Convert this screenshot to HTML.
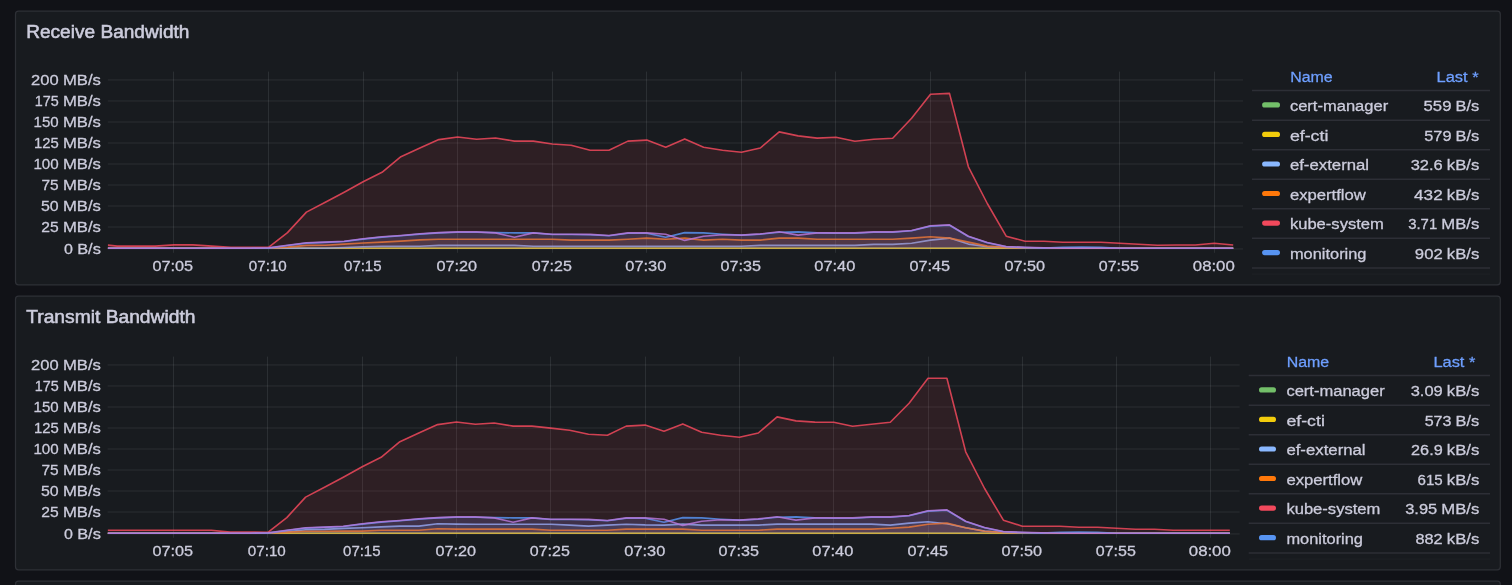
<!DOCTYPE html>
<html lang="en"><head><meta charset="utf-8"><title>Networking / Cluster</title>
<style>
html,body{margin:0;padding:0;background:#111217;}
body{width:1512px;height:585px;overflow:hidden;position:relative;font-family:"Liberation Sans", sans-serif;}
.panel{position:absolute;left:15px;width:1484.5px;height:272.7px;background:#181b1f;border:1.25px solid #2e3036;border-radius:3px;}
svg{position:absolute;left:0;top:0;}
svg text{font-family:"Liberation Sans", sans-serif;}
svg text{stroke:#ccccdc;stroke-width:0.3px;} svg text.lnk{stroke:#6e9fff;} .ttl{font-weight:400;stroke:#ccccdc;stroke-width:0.55px !important;}
</style></head><body>
<svg width="1512" height="585" viewBox="0 0 1512 585">
<defs>
<clipPath id="clip1"><rect x="107.6" y="70" width="1135.4" height="180.6"/></clipPath>
<clipPath id="clip2"><rect x="107.6" y="355" width="1131.4" height="180.6"/></clipPath>
</defs>
<rect x="15.5" y="11.2" width="1484.8" height="273.6" rx="3" fill="#181b1f" stroke="#2e3036" stroke-width="1.25"/>
<rect x="15.5" y="296.2" width="1484.8" height="273.6" rx="3" fill="#181b1f" stroke="#2e3036" stroke-width="1.25"/>
<rect x="15.5" y="581.2" width="1484.8" height="273.6" rx="3" fill="#181b1f" stroke="#2e3036" stroke-width="1.25"/>
<g>
<text x="26.2" y="37.8" font-size="17.5" fill="#ccccdc" textLength="163.3" lengthAdjust="spacingAndGlyphs" class="ttl">Receive Bandwidth</text>
<text y="253.7" font-size="15.5" fill="#ccccdc" text-anchor="end"><tspan x="77.2" textLength="8.9" lengthAdjust="spacingAndGlyphs">0</tspan> <tspan x="100.9" textLength="23.7" lengthAdjust="spacingAndGlyphs">B/s</tspan></text>
<text y="231.8" font-size="15.5" fill="#ccccdc" text-anchor="end"><tspan x="63.0" textLength="17.4" lengthAdjust="spacingAndGlyphs">25</tspan> <tspan x="100.9" textLength="38.0" lengthAdjust="spacingAndGlyphs">MB/s</tspan></text>
<text y="210.8" font-size="15.5" fill="#ccccdc" text-anchor="end"><tspan x="63.0" textLength="17.7" lengthAdjust="spacingAndGlyphs">50</tspan> <tspan x="100.9" textLength="38.0" lengthAdjust="spacingAndGlyphs">MB/s</tspan></text>
<text y="189.8" font-size="15.5" fill="#ccccdc" text-anchor="end"><tspan x="63.0" textLength="17.2" lengthAdjust="spacingAndGlyphs">75</tspan> <tspan x="100.9" textLength="38.0" lengthAdjust="spacingAndGlyphs">MB/s</tspan></text>
<text y="168.8" font-size="15.5" fill="#ccccdc" text-anchor="end"><tspan x="63.0" textLength="25.3" lengthAdjust="spacingAndGlyphs">100</tspan> <tspan x="100.9" textLength="38.0" lengthAdjust="spacingAndGlyphs">MB/s</tspan></text>
<text y="147.8" font-size="15.5" fill="#ccccdc" text-anchor="end"><tspan x="63.0" textLength="24.8" lengthAdjust="spacingAndGlyphs">125</tspan> <tspan x="100.9" textLength="38.0" lengthAdjust="spacingAndGlyphs">MB/s</tspan></text>
<text y="126.8" font-size="15.5" fill="#ccccdc" text-anchor="end"><tspan x="63.0" textLength="25.1" lengthAdjust="spacingAndGlyphs">150</tspan> <tspan x="100.9" textLength="38.0" lengthAdjust="spacingAndGlyphs">MB/s</tspan></text>
<text y="105.7" font-size="15.5" fill="#ccccdc" text-anchor="end"><tspan x="63.0" textLength="24.0" lengthAdjust="spacingAndGlyphs">175</tspan> <tspan x="100.9" textLength="38.0" lengthAdjust="spacingAndGlyphs">MB/s</tspan></text>
<text y="84.7" font-size="15.5" fill="#ccccdc" text-anchor="end"><tspan x="63.0" textLength="27.6" lengthAdjust="spacingAndGlyphs">200</tspan> <tspan x="100.9" textLength="38.0" lengthAdjust="spacingAndGlyphs">MB/s</tspan></text>
<text x="172.8" y="270.8" font-size="15.5" fill="#ccccdc" text-anchor="middle" textLength="40.6" lengthAdjust="spacingAndGlyphs">07:05</text>
<text x="267.8" y="270.8" font-size="15.5" fill="#ccccdc" text-anchor="middle" textLength="38.0" lengthAdjust="spacingAndGlyphs">07:10</text>
<text x="362.8" y="270.8" font-size="15.5" fill="#ccccdc" text-anchor="middle" textLength="37.5" lengthAdjust="spacingAndGlyphs">07:15</text>
<text x="456.8" y="270.8" font-size="15.5" fill="#ccccdc" text-anchor="middle" textLength="40.6" lengthAdjust="spacingAndGlyphs">07:20</text>
<text x="551.8" y="270.8" font-size="15.5" fill="#ccccdc" text-anchor="middle" textLength="40.1" lengthAdjust="spacingAndGlyphs">07:25</text>
<text x="645.8" y="270.8" font-size="15.5" fill="#ccccdc" text-anchor="middle" textLength="40.9" lengthAdjust="spacingAndGlyphs">07:30</text>
<text x="740.8" y="270.8" font-size="15.5" fill="#ccccdc" text-anchor="middle" textLength="40.4" lengthAdjust="spacingAndGlyphs">07:35</text>
<text x="834.8" y="270.8" font-size="15.5" fill="#ccccdc" text-anchor="middle" textLength="41.1" lengthAdjust="spacingAndGlyphs">07:40</text>
<text x="929.8" y="270.8" font-size="15.5" fill="#ccccdc" text-anchor="middle" textLength="40.6" lengthAdjust="spacingAndGlyphs">07:45</text>
<text x="1024.8" y="270.8" font-size="15.5" fill="#ccccdc" text-anchor="middle" textLength="40.6" lengthAdjust="spacingAndGlyphs">07:50</text>
<text x="1118.8" y="270.8" font-size="15.5" fill="#ccccdc" text-anchor="middle" textLength="40.1" lengthAdjust="spacingAndGlyphs">07:55</text>
<text x="1213.8" y="270.8" font-size="15.5" fill="#ccccdc" text-anchor="middle" textLength="42.0" lengthAdjust="spacingAndGlyphs">08:00</text>
<path d="M107.8,248.95H1243.0M107.8,227.03H1243.0M107.8,206.00H1243.0M107.8,185.03H1243.0M107.8,164.00H1243.0M107.8,143.00H1243.0M107.8,122.00H1243.0M107.8,100.97H1243.0M107.8,79.95H1243.0M173.5,71.6V252.8M268.5,71.6V252.8M363.5,71.6V252.8M457.5,71.6V252.8M552.5,71.6V252.8M646.5,71.6V252.8M741.5,71.6V252.8M835.5,71.6V252.8M930.5,71.6V252.8M1025.5,71.6V252.8M1119.5,71.6V252.8M1214.5,71.6V252.8" stroke="rgba(240,250,255,0.09)" stroke-width="1" fill="none"/>
<g clip-path="url(#clip1)">
<path d="M107.8,248.3 L117.2,248.3 L136.2,248.3 L155.1,248.3 L174.0,248.3 L192.9,248.3 L211.8,248.3 L230.7,248.3 L249.6,248.3 L268.5,248.3 L287.5,248.3 L306.4,248.3 L325.3,248.3 L344.2,248.3 L363.1,248.3 L382.0,248.3 L400.9,248.3 L419.9,248.3 L438.8,248.3 L457.7,248.3 L476.6,248.3 L495.5,248.3 L514.4,248.3 L533.3,248.3 L552.3,248.3 L571.2,248.3 L590.1,248.3 L609.0,248.3 L627.9,248.3 L646.8,248.3 L665.7,248.3 L684.7,248.3 L703.6,248.3 L722.5,248.3 L741.4,248.3 L760.3,248.3 L779.2,248.3 L798.1,248.3 L817.1,248.3 L836.0,248.3 L854.9,248.3 L873.8,248.3 L892.7,248.3 L911.6,248.3 L930.5,248.3 L949.5,248.3 L968.4,248.3 L987.3,248.3 L1006.2,248.3 L1025.1,248.3 L1044.0,248.3 L1062.9,248.3 L1081.9,248.3 L1100.8,248.3 L1119.7,248.3 L1138.6,248.3 L1157.5,248.3 L1176.4,248.3 L1195.3,248.3 L1214.2,248.3 L1233.2,248.3 L1233.2,248.7 L107.8,248.7 Z" fill="#73BF69" fill-opacity="0.1" stroke="none"/>
<path d="M107.8,248.3 L117.2,248.3 L136.2,248.3 L155.1,248.3 L174.0,248.3 L192.9,248.3 L211.8,248.3 L230.7,248.3 L249.6,248.3 L268.5,248.3 L287.5,248.3 L306.4,248.3 L325.3,248.3 L344.2,248.3 L363.1,248.3 L382.0,248.3 L400.9,248.3 L419.9,248.3 L438.8,248.3 L457.7,248.3 L476.6,248.3 L495.5,248.3 L514.4,248.3 L533.3,248.3 L552.3,248.3 L571.2,248.3 L590.1,248.3 L609.0,248.3 L627.9,248.3 L646.8,248.3 L665.7,248.3 L684.7,248.3 L703.6,248.3 L722.5,248.3 L741.4,248.3 L760.3,248.3 L779.2,248.3 L798.1,248.3 L817.1,248.3 L836.0,248.3 L854.9,248.3 L873.8,248.3 L892.7,248.3 L911.6,248.3 L930.5,248.3 L949.5,248.3 L968.4,248.3 L987.3,248.3 L1006.2,248.3 L1025.1,248.3 L1044.0,248.3 L1062.9,248.3 L1081.9,248.3 L1100.8,248.3 L1119.7,248.3 L1138.6,248.3 L1157.5,248.3 L1176.4,248.3 L1195.3,248.3 L1214.2,248.3 L1233.2,248.3" fill="none" stroke="#73BF69" stroke-width="1.6" stroke-opacity="0.84" stroke-linejoin="round"/>
<path d="M107.8,248.2 L117.2,248.2 L136.2,248.2 L155.1,248.2 L174.0,248.2 L192.9,248.2 L211.8,248.2 L230.7,248.2 L249.6,248.2 L268.5,248.2 L287.5,248.2 L306.4,248.2 L325.3,248.2 L344.2,248.2 L363.1,248.2 L382.0,248.2 L400.9,248.2 L419.9,248.2 L438.8,248.2 L457.7,248.2 L476.6,248.2 L495.5,248.2 L514.4,248.2 L533.3,248.2 L552.3,248.2 L571.2,248.2 L590.1,248.2 L609.0,248.2 L627.9,248.2 L646.8,248.2 L665.7,248.2 L684.7,248.2 L703.6,248.2 L722.5,248.2 L741.4,248.2 L760.3,248.2 L779.2,248.2 L798.1,248.2 L817.1,248.2 L836.0,248.2 L854.9,248.2 L873.8,248.2 L892.7,248.2 L911.6,248.2 L930.5,248.2 L949.5,248.2 L968.4,248.2 L987.3,248.2 L1006.2,248.2 L1025.1,248.2 L1044.0,248.2 L1062.9,248.2 L1081.9,248.2 L1100.8,248.2 L1119.7,248.2 L1138.6,248.2 L1157.5,248.2 L1176.4,248.2 L1195.3,248.2 L1214.2,248.2 L1233.2,248.2 L1233.2,248.7 L107.8,248.7 Z" fill="#F2CC0C" fill-opacity="0.1" stroke="none"/>
<path d="M107.8,248.2 L117.2,248.2 L136.2,248.2 L155.1,248.2 L174.0,248.2 L192.9,248.2 L211.8,248.2 L230.7,248.2 L249.6,248.2 L268.5,248.2 L287.5,248.2 L306.4,248.2 L325.3,248.2 L344.2,248.2 L363.1,248.2 L382.0,248.2 L400.9,248.2 L419.9,248.2 L438.8,248.2 L457.7,248.2 L476.6,248.2 L495.5,248.2 L514.4,248.2 L533.3,248.2 L552.3,248.2 L571.2,248.2 L590.1,248.2 L609.0,248.2 L627.9,248.2 L646.8,248.2 L665.7,248.2 L684.7,248.2 L703.6,248.2 L722.5,248.2 L741.4,248.2 L760.3,248.2 L779.2,248.2 L798.1,248.2 L817.1,248.2 L836.0,248.2 L854.9,248.2 L873.8,248.2 L892.7,248.2 L911.6,248.2 L930.5,248.2 L949.5,248.2 L968.4,248.2 L987.3,248.2 L1006.2,248.2 L1025.1,248.2 L1044.0,248.2 L1062.9,248.2 L1081.9,248.2 L1100.8,248.2 L1119.7,248.2 L1138.6,248.2 L1157.5,248.2 L1176.4,248.2 L1195.3,248.2 L1214.2,248.2 L1233.2,248.2" fill="none" stroke="#F2CC0C" stroke-width="1.6" stroke-opacity="0.84" stroke-linejoin="round"/>
<path d="M107.8,248.3 L117.2,248.3 L136.2,248.3 L155.1,248.3 L174.0,248.3 L192.9,248.3 L211.8,248.3 L230.7,248.3 L249.6,248.3 L268.5,248.3 L287.5,248.3 L306.4,248.3 L325.3,248.3 L344.2,247.5 L363.1,246.7 L382.0,246.2 L400.9,246.2 L419.9,246.2 L438.8,245.4 L457.7,245.4 L476.6,245.4 L495.5,245.4 L514.4,245.4 L533.3,246.3 L552.3,246.3 L571.2,246.3 L590.1,246.3 L609.0,246.3 L627.9,246.3 L646.8,246.3 L665.7,246.3 L684.7,246.3 L703.6,246.3 L722.5,246.3 L741.4,246.3 L760.3,245.4 L779.2,245.4 L798.1,245.4 L817.1,245.4 L836.0,245.4 L854.9,245.4 L873.8,244.4 L892.7,244.4 L911.6,243.2 L930.5,240.1 L949.5,238.1 L968.4,244.1 L987.3,246.7 L1006.2,247.4 L1025.1,247.9 L1044.0,248.3 L1062.9,248.3 L1081.9,248.3 L1100.8,248.3 L1119.7,248.3 L1138.6,248.3 L1157.5,248.3 L1176.4,248.3 L1195.3,248.3 L1214.2,248.3 L1233.2,248.3 L1233.2,248.7 L107.8,248.7 Z" fill="#8AB8FF" fill-opacity="0.1" stroke="none"/>
<path d="M107.8,248.3 L117.2,248.3 L136.2,248.3 L155.1,248.3 L174.0,248.3 L192.9,248.3 L211.8,248.3 L230.7,248.3 L249.6,248.3 L268.5,248.3 L287.5,248.3 L306.4,248.3 L325.3,248.3 L344.2,247.5 L363.1,246.7 L382.0,246.2 L400.9,246.2 L419.9,246.2 L438.8,245.4 L457.7,245.4 L476.6,245.4 L495.5,245.4 L514.4,245.4 L533.3,246.3 L552.3,246.3 L571.2,246.3 L590.1,246.3 L609.0,246.3 L627.9,246.3 L646.8,246.3 L665.7,246.3 L684.7,246.3 L703.6,246.3 L722.5,246.3 L741.4,246.3 L760.3,245.4 L779.2,245.4 L798.1,245.4 L817.1,245.4 L836.0,245.4 L854.9,245.4 L873.8,244.4 L892.7,244.4 L911.6,243.2 L930.5,240.1 L949.5,238.1 L968.4,244.1 L987.3,246.7 L1006.2,247.4 L1025.1,247.9 L1044.0,248.3 L1062.9,248.3 L1081.9,248.3 L1100.8,248.3 L1119.7,248.3 L1138.6,248.3 L1157.5,248.3 L1176.4,248.3 L1195.3,248.3 L1214.2,248.3 L1233.2,248.3" fill="none" stroke="#8AB8FF" stroke-width="1.6" stroke-opacity="0.84" stroke-linejoin="round"/>
<path d="M107.8,248.3 L117.2,248.3 L136.2,248.3 L155.1,248.3 L174.0,248.3 L192.9,248.3 L211.8,248.3 L230.7,248.3 L249.6,248.3 L268.5,248.3 L287.5,247.1 L306.4,245.4 L325.3,245.2 L344.2,244.1 L363.1,243.0 L382.0,242.1 L400.9,241.1 L419.9,239.9 L438.8,239.2 L457.7,239.2 L476.6,239.2 L495.5,239.2 L514.4,239.2 L533.3,239.2 L552.3,239.2 L571.2,240.1 L590.1,240.1 L609.0,240.1 L627.9,239.2 L646.8,238.1 L665.7,239.2 L684.7,238.1 L703.6,240.1 L722.5,239.2 L741.4,240.1 L760.3,240.1 L779.2,238.1 L798.1,238.1 L817.1,239.2 L836.0,239.2 L854.9,239.2 L873.8,239.2 L892.7,239.2 L911.6,238.1 L930.5,236.8 L949.5,238.1 L968.4,242.1 L987.3,246.1 L1006.2,247.4 L1025.1,247.9 L1044.0,248.3 L1062.9,248.3 L1081.9,248.3 L1100.8,248.3 L1119.7,248.3 L1138.6,248.3 L1157.5,248.3 L1176.4,248.3 L1195.3,248.3 L1214.2,248.3 L1233.2,248.3 L1233.2,248.7 L107.8,248.7 Z" fill="#FF780A" fill-opacity="0.1" stroke="none"/>
<path d="M107.8,248.3 L117.2,248.3 L136.2,248.3 L155.1,248.3 L174.0,248.3 L192.9,248.3 L211.8,248.3 L230.7,248.3 L249.6,248.3 L268.5,248.3 L287.5,247.1 L306.4,245.4 L325.3,245.2 L344.2,244.1 L363.1,243.0 L382.0,242.1 L400.9,241.1 L419.9,239.9 L438.8,239.2 L457.7,239.2 L476.6,239.2 L495.5,239.2 L514.4,239.2 L533.3,239.2 L552.3,239.2 L571.2,240.1 L590.1,240.1 L609.0,240.1 L627.9,239.2 L646.8,238.1 L665.7,239.2 L684.7,238.1 L703.6,240.1 L722.5,239.2 L741.4,240.1 L760.3,240.1 L779.2,238.1 L798.1,238.1 L817.1,239.2 L836.0,239.2 L854.9,239.2 L873.8,239.2 L892.7,239.2 L911.6,238.1 L930.5,236.8 L949.5,238.1 L968.4,242.1 L987.3,246.1 L1006.2,247.4 L1025.1,247.9 L1044.0,248.3 L1062.9,248.3 L1081.9,248.3 L1100.8,248.3 L1119.7,248.3 L1138.6,248.3 L1157.5,248.3 L1176.4,248.3 L1195.3,248.3 L1214.2,248.3 L1233.2,248.3" fill="none" stroke="#FF780A" stroke-width="1.6" stroke-opacity="0.84" stroke-linejoin="round"/>
<path d="M107.8,245.1 L117.2,246.1 L136.2,246.1 L155.1,246.1 L174.0,244.9 L192.9,244.9 L211.8,246.1 L230.7,247.2 L249.6,247.2 L268.5,247.4 L287.5,232.6 L306.4,212.1 L325.3,202.2 L344.2,192.2 L363.1,181.7 L382.0,172.3 L400.9,156.7 L419.9,147.9 L438.8,139.6 L457.7,137.0 L476.6,139.2 L495.5,138.0 L514.4,141.1 L533.3,141.1 L552.3,144.0 L571.2,145.2 L590.1,150.2 L609.0,150.2 L627.9,141.1 L646.8,140.1 L665.7,147.2 L684.7,138.9 L703.6,147.2 L722.5,150.2 L741.4,152.2 L760.3,148.0 L779.2,131.9 L798.1,135.9 L817.1,138.1 L836.0,137.3 L854.9,141.2 L873.8,139.2 L892.7,138.3 L911.6,118.2 L930.5,94.2 L949.5,93.4 L968.4,166.8 L987.3,203.5 L1006.2,236.2 L1025.1,241.2 L1044.0,241.2 L1062.9,242.2 L1081.9,242.2 L1100.8,242.2 L1119.7,243.2 L1138.6,244.2 L1157.5,245.2 L1176.4,245.0 L1195.3,245.0 L1214.2,243.2 L1233.2,245.0 L1233.2,248.7 L107.8,248.7 Z" fill="#F2495C" fill-opacity="0.1" stroke="none"/>
<path d="M107.8,245.1 L117.2,246.1 L136.2,246.1 L155.1,246.1 L174.0,244.9 L192.9,244.9 L211.8,246.1 L230.7,247.2 L249.6,247.2 L268.5,247.4 L287.5,232.6 L306.4,212.1 L325.3,202.2 L344.2,192.2 L363.1,181.7 L382.0,172.3 L400.9,156.7 L419.9,147.9 L438.8,139.6 L457.7,137.0 L476.6,139.2 L495.5,138.0 L514.4,141.1 L533.3,141.1 L552.3,144.0 L571.2,145.2 L590.1,150.2 L609.0,150.2 L627.9,141.1 L646.8,140.1 L665.7,147.2 L684.7,138.9 L703.6,147.2 L722.5,150.2 L741.4,152.2 L760.3,148.0 L779.2,131.9 L798.1,135.9 L817.1,138.1 L836.0,137.3 L854.9,141.2 L873.8,139.2 L892.7,138.3 L911.6,118.2 L930.5,94.2 L949.5,93.4 L968.4,166.8 L987.3,203.5 L1006.2,236.2 L1025.1,241.2 L1044.0,241.2 L1062.9,242.2 L1081.9,242.2 L1100.8,242.2 L1119.7,243.2 L1138.6,244.2 L1157.5,245.2 L1176.4,245.0 L1195.3,245.0 L1214.2,243.2 L1233.2,245.0" fill="none" stroke="#F2495C" stroke-width="1.6" stroke-opacity="0.84" stroke-linejoin="round"/>
<path d="M107.8,248.2 L117.2,248.2 L136.2,248.2 L155.1,248.2 L174.0,248.2 L192.9,248.2 L211.8,248.2 L230.7,248.2 L249.6,248.2 L268.5,248.1 L287.5,245.5 L306.4,243.1 L325.3,242.4 L344.2,241.5 L363.1,239.1 L382.0,237.1 L400.9,235.8 L419.9,234.1 L438.8,232.9 L457.7,232.2 L476.6,232.2 L495.5,232.6 L514.4,232.9 L533.3,232.9 L552.3,234.5 L571.2,234.5 L590.1,234.7 L609.0,235.8 L627.9,233.2 L646.8,233.2 L665.7,237.2 L684.7,232.6 L703.6,232.9 L722.5,234.2 L741.4,235.1 L760.3,234.2 L779.2,232.2 L798.1,231.9 L817.1,232.9 L836.0,233.2 L854.9,233.2 L873.8,232.2 L892.7,232.2 L911.6,230.8 L930.5,226.1 L949.5,225.2 L968.4,236.5 L987.3,242.8 L1006.2,246.8 L1025.1,247.6 L1044.0,248.1 L1062.9,247.3 L1081.9,247.1 L1100.8,247.3 L1119.7,248.2 L1138.6,248.2 L1157.5,248.2 L1176.4,248.2 L1195.3,248.2 L1214.2,248.2 L1233.2,248.2 L1233.2,248.7 L107.8,248.7 Z" fill="#5794F2" fill-opacity="0.1" stroke="none"/>
<path d="M107.8,248.2 L117.2,248.2 L136.2,248.2 L155.1,248.2 L174.0,248.2 L192.9,248.2 L211.8,248.2 L230.7,248.2 L249.6,248.2 L268.5,248.1 L287.5,245.5 L306.4,243.1 L325.3,242.4 L344.2,241.5 L363.1,239.1 L382.0,237.1 L400.9,235.8 L419.9,234.1 L438.8,232.9 L457.7,232.2 L476.6,232.2 L495.5,232.6 L514.4,232.9 L533.3,232.9 L552.3,234.5 L571.2,234.5 L590.1,234.7 L609.0,235.8 L627.9,233.2 L646.8,233.2 L665.7,237.2 L684.7,232.6 L703.6,232.9 L722.5,234.2 L741.4,235.1 L760.3,234.2 L779.2,232.2 L798.1,231.9 L817.1,232.9 L836.0,233.2 L854.9,233.2 L873.8,232.2 L892.7,232.2 L911.6,230.8 L930.5,226.1 L949.5,225.2 L968.4,236.5 L987.3,242.8 L1006.2,246.8 L1025.1,247.6 L1044.0,248.1 L1062.9,247.3 L1081.9,247.1 L1100.8,247.3 L1119.7,248.2 L1138.6,248.2 L1157.5,248.2 L1176.4,248.2 L1195.3,248.2 L1214.2,248.2 L1233.2,248.2" fill="none" stroke="#5794F2" stroke-width="1.6" stroke-opacity="0.84" stroke-linejoin="round"/>
<path d="M107.8,248.2 L117.2,248.2 L136.2,248.2 L155.1,248.2 L174.0,248.2 L192.9,248.2 L211.8,248.2 L230.7,248.2 L249.6,248.2 L268.5,247.8 L287.5,245.2 L306.4,242.8 L325.3,242.1 L344.2,241.2 L363.1,238.8 L382.0,236.8 L400.9,235.5 L419.9,233.8 L438.8,232.6 L457.7,231.9 L476.6,231.9 L495.5,232.9 L514.4,237.2 L533.3,232.9 L552.3,234.2 L571.2,234.2 L590.1,234.4 L609.0,235.5 L627.9,232.9 L646.8,232.9 L665.7,234.2 L684.7,240.4 L703.6,236.2 L722.5,234.8 L741.4,235.1 L760.3,233.9 L779.2,231.8 L798.1,235.1 L817.1,232.9 L836.0,232.9 L854.9,232.9 L873.8,231.9 L892.7,231.9 L911.6,230.5 L930.5,225.8 L949.5,224.9 L968.4,236.2 L987.3,242.5 L1006.2,246.5 L1025.1,247.3 L1044.0,247.8 L1062.9,248.2 L1081.9,248.2 L1100.8,248.2 L1119.7,248.2 L1138.6,248.2 L1157.5,248.2 L1176.4,248.2 L1195.3,248.2 L1214.2,248.2 L1233.2,248.2 L1233.2,248.7 L107.8,248.7 Z" fill="#B877D9" fill-opacity="0.1" stroke="none"/>
<path d="M107.8,248.2 L117.2,248.2 L136.2,248.2 L155.1,248.2 L174.0,248.2 L192.9,248.2 L211.8,248.2 L230.7,248.2 L249.6,248.2 L268.5,247.8 L287.5,245.2 L306.4,242.8 L325.3,242.1 L344.2,241.2 L363.1,238.8 L382.0,236.8 L400.9,235.5 L419.9,233.8 L438.8,232.6 L457.7,231.9 L476.6,231.9 L495.5,232.9 L514.4,237.2 L533.3,232.9 L552.3,234.2 L571.2,234.2 L590.1,234.4 L609.0,235.5 L627.9,232.9 L646.8,232.9 L665.7,234.2 L684.7,240.4 L703.6,236.2 L722.5,234.8 L741.4,235.1 L760.3,233.9 L779.2,231.8 L798.1,235.1 L817.1,232.9 L836.0,232.9 L854.9,232.9 L873.8,231.9 L892.7,231.9 L911.6,230.5 L930.5,225.8 L949.5,224.9 L968.4,236.2 L987.3,242.5 L1006.2,246.5 L1025.1,247.3 L1044.0,247.8 L1062.9,248.2 L1081.9,248.2 L1100.8,248.2 L1119.7,248.2 L1138.6,248.2 L1157.5,248.2 L1176.4,248.2 L1195.3,248.2 L1214.2,248.2 L1233.2,248.2" fill="none" stroke="#B877D9" stroke-width="1.6" stroke-opacity="0.84" stroke-linejoin="round"/>
</g>
<text x="1290.2" y="82" font-size="15.5" fill="#6e9fff" textLength="42.5" lengthAdjust="spacingAndGlyphs" class="lnk">Name</text>
<text x="1478.6" y="82" font-size="15.5" fill="#6e9fff" text-anchor="end" textLength="42" lengthAdjust="spacingAndGlyphs" class="lnk">Last *</text>
<rect x="1262.1" y="102.3" width="17.9" height="5.2" rx="2.6" fill="#73BF69"/>
<text x="1289.9" y="111.0" font-size="15.5" fill="#ccccdc" textLength="98.3" lengthAdjust="spacingAndGlyphs">cert-manager</text>
<text y="111.0" font-size="15.5" fill="#ccccdc" text-anchor="end"><tspan x="1455.8" textLength="27.9" lengthAdjust="spacingAndGlyphs">559</tspan> <tspan x="1479.3" textLength="23.7" lengthAdjust="spacingAndGlyphs">B/s</tspan></text>
<rect x="1262.1" y="131.8" width="17.9" height="5.2" rx="2.6" fill="#F2CC0C"/>
<text x="1289.9" y="140.5" font-size="15.5" fill="#ccccdc" textLength="38.5" lengthAdjust="spacingAndGlyphs">ef-cti</text>
<text y="140.5" font-size="15.5" fill="#ccccdc" text-anchor="end"><tspan x="1455.8" textLength="27.2" lengthAdjust="spacingAndGlyphs">579</tspan> <tspan x="1479.3" textLength="23.7" lengthAdjust="spacingAndGlyphs">B/s</tspan></text>
<rect x="1262.1" y="161.4" width="17.9" height="5.2" rx="2.6" fill="#8AB8FF"/>
<text x="1289.9" y="170.1" font-size="15.5" fill="#ccccdc" textLength="79.2" lengthAdjust="spacingAndGlyphs">ef-external</text>
<text y="170.1" font-size="15.5" fill="#ccccdc" text-anchor="end"><tspan x="1447.0" textLength="32.0" lengthAdjust="spacingAndGlyphs">32.6</tspan> <tspan x="1479.3" textLength="32.5" lengthAdjust="spacingAndGlyphs">kB/s</tspan></text>
<rect x="1262.1" y="190.9" width="17.9" height="5.2" rx="2.6" fill="#FF780A"/>
<text x="1289.9" y="199.7" font-size="15.5" fill="#ccccdc" textLength="76.0" lengthAdjust="spacingAndGlyphs">expertflow</text>
<text y="199.7" font-size="15.5" fill="#ccccdc" text-anchor="end"><tspan x="1447.0" textLength="28.6" lengthAdjust="spacingAndGlyphs">432</tspan> <tspan x="1479.3" textLength="32.5" lengthAdjust="spacingAndGlyphs">kB/s</tspan></text>
<rect x="1262.1" y="220.5" width="17.9" height="5.2" rx="2.6" fill="#F2495C"/>
<text x="1289.9" y="229.2" font-size="15.5" fill="#ccccdc" textLength="94.0" lengthAdjust="spacingAndGlyphs">kube-system</text>
<text y="229.2" font-size="15.5" fill="#ccccdc" text-anchor="end"><tspan x="1441.5" textLength="29.0" lengthAdjust="spacingAndGlyphs">3.71</tspan> <tspan x="1479.3" textLength="38.0" lengthAdjust="spacingAndGlyphs">MB/s</tspan></text>
<rect x="1262.1" y="250.0" width="17.9" height="5.2" rx="2.6" fill="#5794F2"/>
<text x="1289.9" y="258.8" font-size="15.5" fill="#ccccdc" textLength="76.6" lengthAdjust="spacingAndGlyphs">monitoring</text>
<text y="258.8" font-size="15.5" fill="#ccccdc" text-anchor="end"><tspan x="1447.0" textLength="27.8" lengthAdjust="spacingAndGlyphs">902</tspan> <tspan x="1479.3" textLength="32.5" lengthAdjust="spacingAndGlyphs">kB/s</tspan></text>
<path d="M1252.0,90.60H1490M1252.0,120.15H1490M1252.0,149.70H1490M1252.0,179.25H1490M1252.0,208.80H1490M1252.0,238.35H1490M1252.0,267.90H1490" stroke="#2d2f36" stroke-width="1.5" fill="none"/>
<path d="M1252.0,274.2H1490" stroke="#1d2025" stroke-width="1.3" fill="none"/>
</g>
<g>
<text x="26.2" y="322.8" font-size="17.5" fill="#ccccdc" textLength="169.3" lengthAdjust="spacingAndGlyphs" class="ttl">Transmit Bandwidth</text>
<text y="538.7" font-size="15.5" fill="#ccccdc" text-anchor="end"><tspan x="77.2" textLength="8.9" lengthAdjust="spacingAndGlyphs">0</tspan> <tspan x="100.9" textLength="23.7" lengthAdjust="spacingAndGlyphs">B/s</tspan></text>
<text y="516.8" font-size="15.5" fill="#ccccdc" text-anchor="end"><tspan x="63.0" textLength="17.4" lengthAdjust="spacingAndGlyphs">25</tspan> <tspan x="100.9" textLength="38.0" lengthAdjust="spacingAndGlyphs">MB/s</tspan></text>
<text y="495.8" font-size="15.5" fill="#ccccdc" text-anchor="end"><tspan x="63.0" textLength="17.7" lengthAdjust="spacingAndGlyphs">50</tspan> <tspan x="100.9" textLength="38.0" lengthAdjust="spacingAndGlyphs">MB/s</tspan></text>
<text y="474.8" font-size="15.5" fill="#ccccdc" text-anchor="end"><tspan x="63.0" textLength="17.2" lengthAdjust="spacingAndGlyphs">75</tspan> <tspan x="100.9" textLength="38.0" lengthAdjust="spacingAndGlyphs">MB/s</tspan></text>
<text y="453.8" font-size="15.5" fill="#ccccdc" text-anchor="end"><tspan x="63.0" textLength="25.3" lengthAdjust="spacingAndGlyphs">100</tspan> <tspan x="100.9" textLength="38.0" lengthAdjust="spacingAndGlyphs">MB/s</tspan></text>
<text y="432.8" font-size="15.5" fill="#ccccdc" text-anchor="end"><tspan x="63.0" textLength="24.8" lengthAdjust="spacingAndGlyphs">125</tspan> <tspan x="100.9" textLength="38.0" lengthAdjust="spacingAndGlyphs">MB/s</tspan></text>
<text y="411.8" font-size="15.5" fill="#ccccdc" text-anchor="end"><tspan x="63.0" textLength="25.1" lengthAdjust="spacingAndGlyphs">150</tspan> <tspan x="100.9" textLength="38.0" lengthAdjust="spacingAndGlyphs">MB/s</tspan></text>
<text y="390.7" font-size="15.5" fill="#ccccdc" text-anchor="end"><tspan x="63.0" textLength="24.0" lengthAdjust="spacingAndGlyphs">175</tspan> <tspan x="100.9" textLength="38.0" lengthAdjust="spacingAndGlyphs">MB/s</tspan></text>
<text y="369.7" font-size="15.5" fill="#ccccdc" text-anchor="end"><tspan x="63.0" textLength="27.6" lengthAdjust="spacingAndGlyphs">200</tspan> <tspan x="100.9" textLength="38.0" lengthAdjust="spacingAndGlyphs">MB/s</tspan></text>
<text x="172.8" y="555.8" font-size="15.5" fill="#ccccdc" text-anchor="middle" textLength="40.6" lengthAdjust="spacingAndGlyphs">07:05</text>
<text x="266.8" y="555.8" font-size="15.5" fill="#ccccdc" text-anchor="middle" textLength="38.0" lengthAdjust="spacingAndGlyphs">07:10</text>
<text x="361.8" y="555.8" font-size="15.5" fill="#ccccdc" text-anchor="middle" textLength="37.5" lengthAdjust="spacingAndGlyphs">07:15</text>
<text x="455.8" y="555.8" font-size="15.5" fill="#ccccdc" text-anchor="middle" textLength="40.6" lengthAdjust="spacingAndGlyphs">07:20</text>
<text x="549.8" y="555.8" font-size="15.5" fill="#ccccdc" text-anchor="middle" textLength="40.1" lengthAdjust="spacingAndGlyphs">07:25</text>
<text x="644.8" y="555.8" font-size="15.5" fill="#ccccdc" text-anchor="middle" textLength="40.9" lengthAdjust="spacingAndGlyphs">07:30</text>
<text x="738.8" y="555.8" font-size="15.5" fill="#ccccdc" text-anchor="middle" textLength="40.4" lengthAdjust="spacingAndGlyphs">07:35</text>
<text x="832.8" y="555.8" font-size="15.5" fill="#ccccdc" text-anchor="middle" textLength="41.1" lengthAdjust="spacingAndGlyphs">07:40</text>
<text x="927.8" y="555.8" font-size="15.5" fill="#ccccdc" text-anchor="middle" textLength="40.6" lengthAdjust="spacingAndGlyphs">07:45</text>
<text x="1021.8" y="555.8" font-size="15.5" fill="#ccccdc" text-anchor="middle" textLength="40.6" lengthAdjust="spacingAndGlyphs">07:50</text>
<text x="1115.8" y="555.8" font-size="15.5" fill="#ccccdc" text-anchor="middle" textLength="40.1" lengthAdjust="spacingAndGlyphs">07:55</text>
<text x="1209.8" y="555.8" font-size="15.5" fill="#ccccdc" text-anchor="middle" textLength="42.0" lengthAdjust="spacingAndGlyphs">08:00</text>
<path d="M107.6,533.95H1239.6M107.6,512.03H1239.6M107.6,491.00H1239.6M107.6,470.03H1239.6M107.6,449.00H1239.6M107.6,428.00H1239.6M107.6,407.00H1239.6M107.6,385.97H1239.6M107.6,364.95H1239.6M173.5,356.6V537.8M267.5,356.6V537.8M362.5,356.6V537.8M456.5,356.6V537.8M550.5,356.6V537.8M645.5,356.6V537.8M739.5,356.6V537.8M833.5,356.6V537.8M928.5,356.6V537.8M1022.5,356.6V537.8M1116.5,356.6V537.8M1210.5,356.6V537.8" stroke="rgba(240,250,255,0.09)" stroke-width="1" fill="none"/>
<g clip-path="url(#clip2)">
<path d="M107.6,533.3 L117.0,533.3 L135.9,533.3 L154.7,533.3 L173.6,533.3 L192.5,533.3 L211.3,533.3 L230.2,533.3 L249.0,533.3 L267.9,533.3 L286.8,533.3 L305.6,533.3 L324.5,533.3 L343.3,533.3 L362.2,533.3 L381.1,533.3 L399.9,533.3 L418.8,533.3 L437.6,533.3 L456.5,533.3 L475.4,533.3 L494.2,533.3 L513.1,533.3 L531.9,533.3 L550.8,533.3 L569.7,533.3 L588.5,533.3 L607.4,533.3 L626.2,533.3 L645.1,533.3 L664.0,533.3 L682.8,533.3 L701.7,533.3 L720.5,533.3 L739.4,533.3 L758.3,533.3 L777.1,533.3 L796.0,533.3 L814.8,533.3 L833.7,533.3 L852.6,533.3 L871.4,533.3 L890.3,533.3 L909.1,533.3 L928.0,533.3 L946.9,533.3 L965.7,533.3 L984.6,533.3 L1003.4,533.3 L1022.3,533.3 L1041.2,533.3 L1060.0,533.3 L1078.9,533.3 L1097.7,533.3 L1116.6,533.3 L1135.5,533.3 L1154.3,533.3 L1173.2,533.3 L1192.0,533.3 L1210.9,533.3 L1229.8,533.3 L1229.8,533.7 L107.6,533.7 Z" fill="#73BF69" fill-opacity="0.1" stroke="none"/>
<path d="M107.6,533.3 L117.0,533.3 L135.9,533.3 L154.7,533.3 L173.6,533.3 L192.5,533.3 L211.3,533.3 L230.2,533.3 L249.0,533.3 L267.9,533.3 L286.8,533.3 L305.6,533.3 L324.5,533.3 L343.3,533.3 L362.2,533.3 L381.1,533.3 L399.9,533.3 L418.8,533.3 L437.6,533.3 L456.5,533.3 L475.4,533.3 L494.2,533.3 L513.1,533.3 L531.9,533.3 L550.8,533.3 L569.7,533.3 L588.5,533.3 L607.4,533.3 L626.2,533.3 L645.1,533.3 L664.0,533.3 L682.8,533.3 L701.7,533.3 L720.5,533.3 L739.4,533.3 L758.3,533.3 L777.1,533.3 L796.0,533.3 L814.8,533.3 L833.7,533.3 L852.6,533.3 L871.4,533.3 L890.3,533.3 L909.1,533.3 L928.0,533.3 L946.9,533.3 L965.7,533.3 L984.6,533.3 L1003.4,533.3 L1022.3,533.3 L1041.2,533.3 L1060.0,533.3 L1078.9,533.3 L1097.7,533.3 L1116.6,533.3 L1135.5,533.3 L1154.3,533.3 L1173.2,533.3 L1192.0,533.3 L1210.9,533.3 L1229.8,533.3" fill="none" stroke="#73BF69" stroke-width="1.6" stroke-opacity="0.84" stroke-linejoin="round"/>
<path d="M107.6,533.2 L117.0,533.2 L135.9,533.2 L154.7,533.2 L173.6,533.2 L192.5,533.2 L211.3,533.2 L230.2,533.2 L249.0,533.2 L267.9,533.2 L286.8,533.2 L305.6,533.2 L324.5,533.2 L343.3,533.2 L362.2,533.2 L381.1,533.2 L399.9,533.2 L418.8,533.2 L437.6,533.2 L456.5,533.2 L475.4,533.2 L494.2,533.2 L513.1,533.2 L531.9,533.2 L550.8,533.2 L569.7,533.2 L588.5,533.2 L607.4,533.2 L626.2,533.2 L645.1,533.2 L664.0,533.2 L682.8,533.2 L701.7,533.2 L720.5,533.2 L739.4,533.2 L758.3,533.2 L777.1,533.2 L796.0,533.2 L814.8,533.2 L833.7,533.2 L852.6,533.2 L871.4,533.2 L890.3,533.2 L909.1,533.2 L928.0,533.2 L946.9,533.2 L965.7,533.2 L984.6,533.2 L1003.4,533.2 L1022.3,533.2 L1041.2,533.2 L1060.0,533.2 L1078.9,533.2 L1097.7,533.2 L1116.6,533.2 L1135.5,533.2 L1154.3,533.2 L1173.2,533.2 L1192.0,533.2 L1210.9,533.2 L1229.8,533.2 L1229.8,533.7 L107.6,533.7 Z" fill="#F2CC0C" fill-opacity="0.1" stroke="none"/>
<path d="M107.6,533.2 L117.0,533.2 L135.9,533.2 L154.7,533.2 L173.6,533.2 L192.5,533.2 L211.3,533.2 L230.2,533.2 L249.0,533.2 L267.9,533.2 L286.8,533.2 L305.6,533.2 L324.5,533.2 L343.3,533.2 L362.2,533.2 L381.1,533.2 L399.9,533.2 L418.8,533.2 L437.6,533.2 L456.5,533.2 L475.4,533.2 L494.2,533.2 L513.1,533.2 L531.9,533.2 L550.8,533.2 L569.7,533.2 L588.5,533.2 L607.4,533.2 L626.2,533.2 L645.1,533.2 L664.0,533.2 L682.8,533.2 L701.7,533.2 L720.5,533.2 L739.4,533.2 L758.3,533.2 L777.1,533.2 L796.0,533.2 L814.8,533.2 L833.7,533.2 L852.6,533.2 L871.4,533.2 L890.3,533.2 L909.1,533.2 L928.0,533.2 L946.9,533.2 L965.7,533.2 L984.6,533.2 L1003.4,533.2 L1022.3,533.2 L1041.2,533.2 L1060.0,533.2 L1078.9,533.2 L1097.7,533.2 L1116.6,533.2 L1135.5,533.2 L1154.3,533.2 L1173.2,533.2 L1192.0,533.2 L1210.9,533.2 L1229.8,533.2" fill="none" stroke="#F2CC0C" stroke-width="1.6" stroke-opacity="0.84" stroke-linejoin="round"/>
<path d="M107.6,533.3 L117.0,533.3 L135.9,533.3 L154.7,533.3 L173.6,533.3 L192.5,533.3 L211.3,533.3 L230.2,533.3 L249.0,533.3 L267.9,533.3 L286.8,531.7 L305.6,529.8 L324.5,529.4 L343.3,528.4 L362.2,527.8 L381.1,526.9 L399.9,526.1 L418.8,526.1 L437.6,523.8 L456.5,524.1 L475.4,524.2 L494.2,524.2 L513.1,524.2 L531.9,524.2 L550.8,524.2 L569.7,525.1 L588.5,526.1 L607.4,525.1 L626.2,524.2 L645.1,524.9 L664.0,525.1 L682.8,524.1 L701.7,525.1 L720.5,525.1 L739.4,525.1 L758.3,525.1 L777.1,524.1 L796.0,524.1 L814.8,524.1 L833.7,524.1 L852.6,524.1 L871.4,524.1 L890.3,525.1 L909.1,523.1 L928.0,521.8 L946.9,523.8 L965.7,527.8 L984.6,531.1 L1003.4,532.4 L1022.3,532.9 L1041.2,533.3 L1060.0,533.3 L1078.9,533.3 L1097.7,533.3 L1116.6,533.3 L1135.5,533.3 L1154.3,533.3 L1173.2,533.3 L1192.0,533.3 L1210.9,533.3 L1229.8,533.3 L1229.8,533.7 L107.6,533.7 Z" fill="#8AB8FF" fill-opacity="0.1" stroke="none"/>
<path d="M107.6,533.3 L117.0,533.3 L135.9,533.3 L154.7,533.3 L173.6,533.3 L192.5,533.3 L211.3,533.3 L230.2,533.3 L249.0,533.3 L267.9,533.3 L286.8,531.7 L305.6,529.8 L324.5,529.4 L343.3,528.4 L362.2,527.8 L381.1,526.9 L399.9,526.1 L418.8,526.1 L437.6,523.8 L456.5,524.1 L475.4,524.2 L494.2,524.2 L513.1,524.2 L531.9,524.2 L550.8,524.2 L569.7,525.1 L588.5,526.1 L607.4,525.1 L626.2,524.2 L645.1,524.9 L664.0,525.1 L682.8,524.1 L701.7,525.1 L720.5,525.1 L739.4,525.1 L758.3,525.1 L777.1,524.1 L796.0,524.1 L814.8,524.1 L833.7,524.1 L852.6,524.1 L871.4,524.1 L890.3,525.1 L909.1,523.1 L928.0,521.8 L946.9,523.8 L965.7,527.8 L984.6,531.1 L1003.4,532.4 L1022.3,532.9 L1041.2,533.3 L1060.0,533.3 L1078.9,533.3 L1097.7,533.3 L1116.6,533.3 L1135.5,533.3 L1154.3,533.3 L1173.2,533.3 L1192.0,533.3 L1210.9,533.3 L1229.8,533.3" fill="none" stroke="#8AB8FF" stroke-width="1.6" stroke-opacity="0.84" stroke-linejoin="round"/>
<path d="M107.6,533.3 L117.0,533.3 L135.9,533.3 L154.7,533.3 L173.6,533.3 L192.5,533.3 L211.3,533.3 L230.2,533.3 L249.0,533.3 L267.9,533.3 L286.8,532.1 L305.6,531.3 L324.5,531.3 L343.3,531.1 L362.2,531.1 L381.1,530.2 L399.9,530.2 L418.8,530.2 L437.6,528.8 L456.5,529.1 L475.4,529.1 L494.2,529.1 L513.1,529.1 L531.9,529.1 L550.8,530.2 L569.7,530.2 L588.5,530.2 L607.4,530.2 L626.2,529.1 L645.1,529.1 L664.0,529.1 L682.8,529.1 L701.7,530.2 L720.5,530.2 L739.4,530.2 L758.3,530.2 L777.1,529.1 L796.0,529.1 L814.8,529.1 L833.7,529.1 L852.6,529.1 L871.4,529.1 L890.3,528.2 L909.1,527.1 L928.0,524.2 L946.9,523.1 L965.7,527.8 L984.6,531.3 L1003.4,532.4 L1022.3,532.9 L1041.2,533.3 L1060.0,533.3 L1078.9,533.3 L1097.7,533.3 L1116.6,533.3 L1135.5,533.3 L1154.3,533.3 L1173.2,533.3 L1192.0,533.3 L1210.9,533.3 L1229.8,533.3 L1229.8,533.7 L107.6,533.7 Z" fill="#FF780A" fill-opacity="0.1" stroke="none"/>
<path d="M107.6,533.3 L117.0,533.3 L135.9,533.3 L154.7,533.3 L173.6,533.3 L192.5,533.3 L211.3,533.3 L230.2,533.3 L249.0,533.3 L267.9,533.3 L286.8,532.1 L305.6,531.3 L324.5,531.3 L343.3,531.1 L362.2,531.1 L381.1,530.2 L399.9,530.2 L418.8,530.2 L437.6,528.8 L456.5,529.1 L475.4,529.1 L494.2,529.1 L513.1,529.1 L531.9,529.1 L550.8,530.2 L569.7,530.2 L588.5,530.2 L607.4,530.2 L626.2,529.1 L645.1,529.1 L664.0,529.1 L682.8,529.1 L701.7,530.2 L720.5,530.2 L739.4,530.2 L758.3,530.2 L777.1,529.1 L796.0,529.1 L814.8,529.1 L833.7,529.1 L852.6,529.1 L871.4,529.1 L890.3,528.2 L909.1,527.1 L928.0,524.2 L946.9,523.1 L965.7,527.8 L984.6,531.3 L1003.4,532.4 L1022.3,532.9 L1041.2,533.3 L1060.0,533.3 L1078.9,533.3 L1097.7,533.3 L1116.6,533.3 L1135.5,533.3 L1154.3,533.3 L1173.2,533.3 L1192.0,533.3 L1210.9,533.3 L1229.8,533.3" fill="none" stroke="#FF780A" stroke-width="1.6" stroke-opacity="0.84" stroke-linejoin="round"/>
<path d="M107.6,530.2 L117.0,530.2 L135.9,530.2 L154.7,530.2 L173.6,530.2 L192.5,530.2 L211.3,530.2 L230.2,532.1 L249.0,532.1 L267.9,532.3 L286.8,517.6 L305.6,497.1 L324.5,487.2 L343.3,477.2 L362.2,466.7 L381.1,457.3 L399.9,441.7 L418.8,432.9 L437.6,424.6 L456.5,422.0 L475.4,424.2 L494.2,423.0 L513.1,426.1 L531.9,426.1 L550.8,428.1 L569.7,430.2 L588.5,434.2 L607.4,435.2 L626.2,426.1 L645.1,425.1 L664.0,431.2 L682.8,423.9 L701.7,432.2 L720.5,435.2 L739.4,437.2 L758.3,433.0 L777.1,416.9 L796.0,420.9 L814.8,422.1 L833.7,422.3 L852.6,426.2 L871.4,424.2 L890.3,422.3 L909.1,403.2 L928.0,378.2 L946.9,378.2 L965.7,451.8 L984.6,488.5 L1003.4,520.2 L1022.3,526.2 L1041.2,526.2 L1060.0,526.2 L1078.9,527.2 L1097.7,527.2 L1116.6,528.2 L1135.5,529.2 L1154.3,529.2 L1173.2,530.2 L1192.0,530.2 L1210.9,530.2 L1229.8,530.2 L1229.8,533.7 L107.6,533.7 Z" fill="#F2495C" fill-opacity="0.1" stroke="none"/>
<path d="M107.6,530.2 L117.0,530.2 L135.9,530.2 L154.7,530.2 L173.6,530.2 L192.5,530.2 L211.3,530.2 L230.2,532.1 L249.0,532.1 L267.9,532.3 L286.8,517.6 L305.6,497.1 L324.5,487.2 L343.3,477.2 L362.2,466.7 L381.1,457.3 L399.9,441.7 L418.8,432.9 L437.6,424.6 L456.5,422.0 L475.4,424.2 L494.2,423.0 L513.1,426.1 L531.9,426.1 L550.8,428.1 L569.7,430.2 L588.5,434.2 L607.4,435.2 L626.2,426.1 L645.1,425.1 L664.0,431.2 L682.8,423.9 L701.7,432.2 L720.5,435.2 L739.4,437.2 L758.3,433.0 L777.1,416.9 L796.0,420.9 L814.8,422.1 L833.7,422.3 L852.6,426.2 L871.4,424.2 L890.3,422.3 L909.1,403.2 L928.0,378.2 L946.9,378.2 L965.7,451.8 L984.6,488.5 L1003.4,520.2 L1022.3,526.2 L1041.2,526.2 L1060.0,526.2 L1078.9,527.2 L1097.7,527.2 L1116.6,528.2 L1135.5,529.2 L1154.3,529.2 L1173.2,530.2 L1192.0,530.2 L1210.9,530.2 L1229.8,530.2" fill="none" stroke="#F2495C" stroke-width="1.6" stroke-opacity="0.84" stroke-linejoin="round"/>
<path d="M107.6,533.2 L117.0,533.2 L135.9,533.2 L154.7,533.2 L173.6,533.2 L192.5,533.2 L211.3,533.2 L230.2,533.2 L249.0,533.2 L267.9,533.1 L286.8,530.5 L305.6,528.1 L324.5,527.4 L343.3,526.5 L362.2,524.1 L381.1,522.1 L399.9,520.8 L418.8,519.1 L437.6,517.9 L456.5,517.2 L475.4,517.2 L494.2,517.6 L513.1,517.9 L531.9,517.9 L550.8,519.5 L569.7,519.5 L588.5,519.7 L607.4,520.8 L626.2,518.2 L645.1,518.2 L664.0,522.2 L682.8,517.6 L701.7,517.9 L720.5,519.2 L739.4,520.1 L758.3,519.2 L777.1,517.2 L796.0,516.9 L814.8,517.9 L833.7,518.2 L852.6,518.2 L871.4,517.2 L890.3,517.2 L909.1,515.8 L928.0,511.1 L946.9,510.2 L965.7,521.5 L984.6,527.8 L1003.4,531.8 L1022.3,532.6 L1041.2,533.1 L1060.0,532.3 L1078.9,532.1 L1097.7,532.3 L1116.6,533.2 L1135.5,533.2 L1154.3,533.2 L1173.2,533.2 L1192.0,533.2 L1210.9,533.2 L1229.8,533.2 L1229.8,533.7 L107.6,533.7 Z" fill="#5794F2" fill-opacity="0.1" stroke="none"/>
<path d="M107.6,533.2 L117.0,533.2 L135.9,533.2 L154.7,533.2 L173.6,533.2 L192.5,533.2 L211.3,533.2 L230.2,533.2 L249.0,533.2 L267.9,533.1 L286.8,530.5 L305.6,528.1 L324.5,527.4 L343.3,526.5 L362.2,524.1 L381.1,522.1 L399.9,520.8 L418.8,519.1 L437.6,517.9 L456.5,517.2 L475.4,517.2 L494.2,517.6 L513.1,517.9 L531.9,517.9 L550.8,519.5 L569.7,519.5 L588.5,519.7 L607.4,520.8 L626.2,518.2 L645.1,518.2 L664.0,522.2 L682.8,517.6 L701.7,517.9 L720.5,519.2 L739.4,520.1 L758.3,519.2 L777.1,517.2 L796.0,516.9 L814.8,517.9 L833.7,518.2 L852.6,518.2 L871.4,517.2 L890.3,517.2 L909.1,515.8 L928.0,511.1 L946.9,510.2 L965.7,521.5 L984.6,527.8 L1003.4,531.8 L1022.3,532.6 L1041.2,533.1 L1060.0,532.3 L1078.9,532.1 L1097.7,532.3 L1116.6,533.2 L1135.5,533.2 L1154.3,533.2 L1173.2,533.2 L1192.0,533.2 L1210.9,533.2 L1229.8,533.2" fill="none" stroke="#5794F2" stroke-width="1.6" stroke-opacity="0.84" stroke-linejoin="round"/>
<path d="M107.6,533.2 L117.0,533.2 L135.9,533.2 L154.7,533.2 L173.6,533.2 L192.5,533.2 L211.3,533.2 L230.2,533.2 L249.0,533.2 L267.9,532.8 L286.8,530.2 L305.6,527.8 L324.5,527.1 L343.3,526.2 L362.2,523.8 L381.1,521.8 L399.9,520.5 L418.8,518.8 L437.6,517.6 L456.5,516.9 L475.4,516.9 L494.2,517.9 L513.1,522.2 L531.9,517.9 L550.8,519.2 L569.7,519.2 L588.5,519.4 L607.4,520.5 L626.2,517.9 L645.1,517.9 L664.0,519.2 L682.8,525.4 L701.7,521.2 L720.5,519.8 L739.4,520.1 L758.3,518.9 L777.1,516.8 L796.0,520.1 L814.8,517.9 L833.7,517.9 L852.6,517.9 L871.4,516.9 L890.3,516.9 L909.1,515.5 L928.0,510.8 L946.9,509.9 L965.7,521.2 L984.6,527.5 L1003.4,531.5 L1022.3,532.3 L1041.2,532.8 L1060.0,533.2 L1078.9,533.2 L1097.7,533.2 L1116.6,533.2 L1135.5,533.2 L1154.3,533.2 L1173.2,533.2 L1192.0,533.2 L1210.9,533.2 L1229.8,533.2 L1229.8,533.7 L107.6,533.7 Z" fill="#B877D9" fill-opacity="0.1" stroke="none"/>
<path d="M107.6,533.2 L117.0,533.2 L135.9,533.2 L154.7,533.2 L173.6,533.2 L192.5,533.2 L211.3,533.2 L230.2,533.2 L249.0,533.2 L267.9,532.8 L286.8,530.2 L305.6,527.8 L324.5,527.1 L343.3,526.2 L362.2,523.8 L381.1,521.8 L399.9,520.5 L418.8,518.8 L437.6,517.6 L456.5,516.9 L475.4,516.9 L494.2,517.9 L513.1,522.2 L531.9,517.9 L550.8,519.2 L569.7,519.2 L588.5,519.4 L607.4,520.5 L626.2,517.9 L645.1,517.9 L664.0,519.2 L682.8,525.4 L701.7,521.2 L720.5,519.8 L739.4,520.1 L758.3,518.9 L777.1,516.8 L796.0,520.1 L814.8,517.9 L833.7,517.9 L852.6,517.9 L871.4,516.9 L890.3,516.9 L909.1,515.5 L928.0,510.8 L946.9,509.9 L965.7,521.2 L984.6,527.5 L1003.4,531.5 L1022.3,532.3 L1041.2,532.8 L1060.0,533.2 L1078.9,533.2 L1097.7,533.2 L1116.6,533.2 L1135.5,533.2 L1154.3,533.2 L1173.2,533.2 L1192.0,533.2 L1210.9,533.2 L1229.8,533.2" fill="none" stroke="#B877D9" stroke-width="1.6" stroke-opacity="0.84" stroke-linejoin="round"/>
</g>
<text x="1286.7" y="367" font-size="15.5" fill="#6e9fff" textLength="42.5" lengthAdjust="spacingAndGlyphs" class="lnk">Name</text>
<text x="1475.4" y="367" font-size="15.5" fill="#6e9fff" text-anchor="end" textLength="42" lengthAdjust="spacingAndGlyphs" class="lnk">Last *</text>
<rect x="1259.0" y="387.3" width="17.0" height="5.2" rx="2.6" fill="#73BF69"/>
<text x="1286.4" y="396.0" font-size="15.5" fill="#ccccdc" textLength="98.3" lengthAdjust="spacingAndGlyphs">cert-manager</text>
<text y="396.0" font-size="15.5" fill="#ccccdc" text-anchor="end"><tspan x="1447.0" textLength="32.0" lengthAdjust="spacingAndGlyphs">3.09</tspan> <tspan x="1479.3" textLength="32.5" lengthAdjust="spacingAndGlyphs">kB/s</tspan></text>
<rect x="1259.0" y="416.8" width="17.0" height="5.2" rx="2.6" fill="#F2CC0C"/>
<text x="1286.4" y="425.5" font-size="15.5" fill="#ccccdc" textLength="38.5" lengthAdjust="spacingAndGlyphs">ef-cti</text>
<text y="425.5" font-size="15.5" fill="#ccccdc" text-anchor="end"><tspan x="1455.8" textLength="26.8" lengthAdjust="spacingAndGlyphs">573</tspan> <tspan x="1479.3" textLength="23.7" lengthAdjust="spacingAndGlyphs">B/s</tspan></text>
<rect x="1259.0" y="446.4" width="17.0" height="5.2" rx="2.6" fill="#8AB8FF"/>
<text x="1286.4" y="455.1" font-size="15.5" fill="#ccccdc" textLength="79.2" lengthAdjust="spacingAndGlyphs">ef-external</text>
<text y="455.1" font-size="15.5" fill="#ccccdc" text-anchor="end"><tspan x="1447.0" textLength="31.6" lengthAdjust="spacingAndGlyphs">26.9</tspan> <tspan x="1479.3" textLength="32.5" lengthAdjust="spacingAndGlyphs">kB/s</tspan></text>
<rect x="1259.0" y="475.9" width="17.0" height="5.2" rx="2.6" fill="#FF780A"/>
<text x="1286.4" y="484.6" font-size="15.5" fill="#ccccdc" textLength="76.0" lengthAdjust="spacingAndGlyphs">expertflow</text>
<text y="484.6" font-size="15.5" fill="#ccccdc" text-anchor="end"><tspan x="1447.0" textLength="25.2" lengthAdjust="spacingAndGlyphs">615</tspan> <tspan x="1479.3" textLength="32.5" lengthAdjust="spacingAndGlyphs">kB/s</tspan></text>
<rect x="1259.0" y="505.5" width="17.0" height="5.2" rx="2.6" fill="#F2495C"/>
<text x="1286.4" y="514.2" font-size="15.5" fill="#ccccdc" textLength="94.0" lengthAdjust="spacingAndGlyphs">kube-system</text>
<text y="514.2" font-size="15.5" fill="#ccccdc" text-anchor="end"><tspan x="1441.5" textLength="32.0" lengthAdjust="spacingAndGlyphs">3.95</tspan> <tspan x="1479.3" textLength="38.0" lengthAdjust="spacingAndGlyphs">MB/s</tspan></text>
<rect x="1259.0" y="535.1" width="17.0" height="5.2" rx="2.6" fill="#5794F2"/>
<text x="1286.4" y="543.8" font-size="15.5" fill="#ccccdc" textLength="76.6" lengthAdjust="spacingAndGlyphs">monitoring</text>
<text y="543.8" font-size="15.5" fill="#ccccdc" text-anchor="end"><tspan x="1447.0" textLength="27.2" lengthAdjust="spacingAndGlyphs">882</tspan> <tspan x="1479.3" textLength="32.5" lengthAdjust="spacingAndGlyphs">kB/s</tspan></text>
<path d="M1248.7,375.60H1490M1248.7,405.15H1490M1248.7,434.70H1490M1248.7,464.25H1490M1248.7,493.80H1490M1248.7,523.35H1490M1248.7,552.90H1490" stroke="#2d2f36" stroke-width="1.5" fill="none"/>
<path d="M1248.7,559.2H1490" stroke="#1d2025" stroke-width="1.3" fill="none"/>
</g>
</svg>
</body></html>
